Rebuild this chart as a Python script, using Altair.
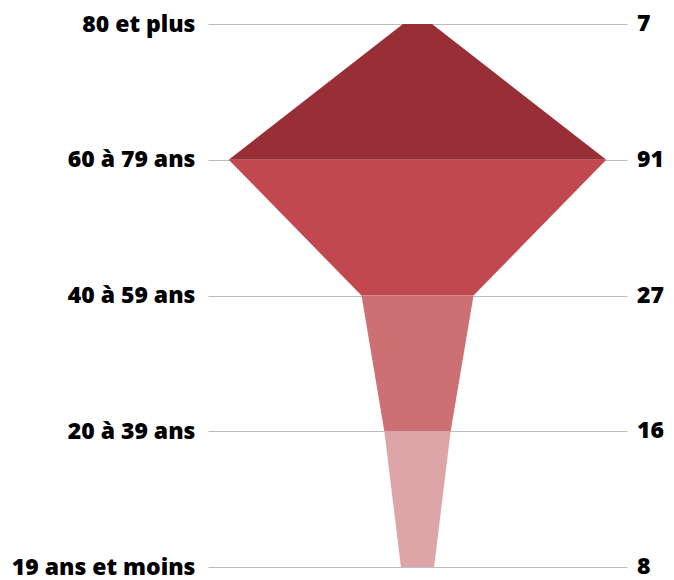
import altair as alt
import pandas as pd

bands = ["80 et plus", "60 à 79 ans", "40 à 59 ans", "20 à 39 ans", "19 ans et moins"]
values = [7, 91, 27, 16, 8]
band_colors = ["#982E36", "#C1484F", "#CD7073", "#DDA5A8"]

n = len(bands)
rows = []
for i in range(n - 1):
    rows.append({"band": i, "y": n - 1 - i, "lo": -values[i], "hi": values[i]})
    rows.append({"band": i, "y": n - 2 - i, "lo": -values[i + 1], "hi": values[i + 1]})
shape_df = pd.DataFrame(rows)

lab_df = pd.DataFrame({"y": [n - 1 - i for i in range(n)], "v": [str(v) for v in values]})

label_expr = "[" + ",".join(f"'{b}'" for b in reversed(bands)) + "][datum.value]"

W, H = 419, 543
FS = 23
yscale = alt.Scale(domain=[0, n - 1], nice=False, zero=False)

area = alt.Chart(shape_df).mark_area(orient="horizontal", opacity=1).encode(
    y=alt.Y("y:Q", scale=yscale,
            axis=alt.Axis(values=list(range(n)), labelExpr=label_expr, grid=True,
                          gridColor="#bdbdbd", gridWidth=1, domain=False, ticks=False,
                          labelFont="Open Sans", labelFontSize=FS, labelFontWeight=800,
                          labelColor="#000000", labelPadding=13, labelLimit=400, title=None)),
    x=alt.X("lo:Q", scale=alt.Scale(domain=[-101, 101], nice=False), axis=None),
    x2="hi:Q",
    color=alt.Color("band:N", scale=alt.Scale(domain=list(range(n - 1)), range=band_colors), legend=None),
)

right = alt.Chart(lab_df).mark_text(align="left", baseline="middle", font="Open Sans",
                                    fontSize=FS, fontWeight=800, color="#000000").encode(
    y=alt.Y("y:Q", scale=yscale),
    x=alt.value(W + 10),
    text="v:N",
)

chart = alt.layer(area, right).properties(
    width=W, height=H,
    autosize=alt.AutoSizeParams(type="none"),
    padding={"left": 200, "top": 16, "right": 39, "bottom": 13},
).configure_view(stroke=None)

chart.save("out.html", embed_options={"renderer": "svg", "actions": False})
